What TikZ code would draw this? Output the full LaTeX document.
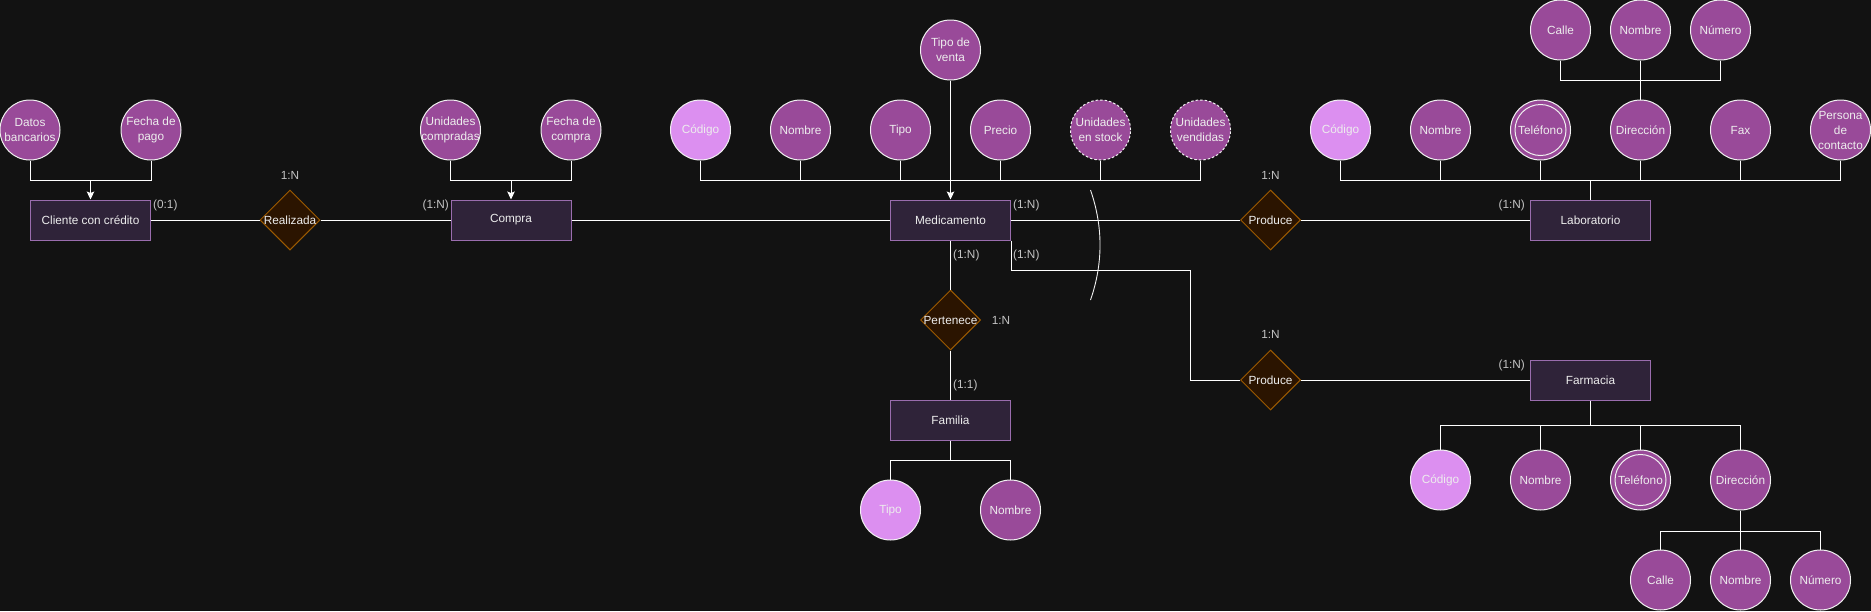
\documentclass[tikz,border=0pt]{standalone}
\usepackage{fontspec}
\setmainfont{Liberation Sans}
\usetikzlibrary{shapes.geometric,arrows.meta}
\definecolor{bg}{HTML}{121212}
\definecolor{attrf}{HTML}{994A99}
\definecolor{keyf}{HTML}{DC8FF0}
\definecolor{circd}{HTML}{F0F0F0}
\definecolor{entf}{HTML}{2F2339}
\definecolor{entd}{HTML}{9A6DAE}
\definecolor{relf}{HTML}{2B1400}
\definecolor{reld}{HTML}{9C5A00}
\definecolor{txtc}{HTML}{EDEDED}
\definecolor{lblc}{HTML}{C4C4C4}
\newcommand\mydiagfont{\fontsize{11.8}{15}\selectfont}
\begin{document}
\begin{tikzpicture}[x=1pt,y=-1pt,
  conn/.style={draw=white, line width=1pt},
  arr/.style={conn, -{Stealth[length=8pt,width=7.5pt,inset=1.5pt]}},
  txtw/.style={text=txtc, font=\mydiagfont, inner sep=0pt, align=center},
  ent/.style={rectangle, draw=entd, fill=entf, line width=1pt, minimum width=120pt, minimum height=40pt, inner sep=0pt, text=txtc, font=\mydiagfont},
  rel/.style={diamond, draw=reld, fill=relf, line width=1pt, minimum width=60pt, minimum height=60pt, inner sep=0pt, label={[txtw]center:#1}},
  attr/.style={circle, draw=circd, fill=attrf, line width=1pt, minimum size=60pt, inner sep=0pt, label={[txtw]center:#1}},
  keyattr/.style={attr=#1, fill=keyf},
  derattr/.style={attr=#1, dash pattern=on 2.5pt off 2pt},
  lbl/.style={text=lblc, font=\mydiagfont, inner sep=0pt}
]
\path[use as bounding box, fill=bg] (0,0) rectangle (1871,611);

% entities
\node[ent] (cliente) at (90.5,220) {Cliente con crédito};
\node[ent] (compra) at (511,220) {Compra};
\node[ent] (med) at (950.5,220) {Medicamento};
\node[ent] (lab) at (1590.5,220) {Laboratorio};
\node[ent] (farm) at (1590.5,380) {Farmacia};
\node[ent] (fam) at (950.5,420) {Familia};

% relationships
\node[rel=Realizada] (realizada) at (290,220) {};
\node[rel=Produce] (prod1) at (1270.5,220) {};
\node[rel=Produce] (prod2) at (1270.5,380) {};
\node[rel=Pertenece] (pert) at (950.5,320) {};

% Cliente attributes
\node[attr={Datos\\bancarios}] (datos) at (30,130) {};
\node[attr={Fecha de\\pago}] (fpago) at (151,130) {};
% Compra attributes
\node[attr={Unidades\\compradas}] (ucomp) at (450.5,130) {};
\node[attr={Fecha de\\compra}] (fcomp) at (571,130) {};
% Medicamento attributes
\node[attr={Tipo de\\venta}] (tventa) at (950.5,50) {};
\node[keyattr={Código}] (mcod) at (700.5,130) {};
\node[attr={Nombre}] (mnom) at (800.5,130) {};
\node[attr={Tipo}] (mtipo) at (900.5,130) {};
\node[attr={Precio}] (mprec) at (1000.5,130) {};
\node[derattr={Unidades\\en stock}] (mstock) at (1100.5,130) {};
\node[derattr={Unidades\\vendidas}] (mvend) at (1200.5,130) {};
% Laboratorio attributes
\node[keyattr={Código}] (lcod) at (1340.5,130) {};
\node[attr={Nombre}] (lnom) at (1440.5,130) {};
\node[attr={Teléfono}] (ltel) at (1540.5,130) {};
\node[attr={Dirección}] (ldir) at (1640.5,130) {};
\node[attr={Fax}] (lfax) at (1740.5,130) {};
\node[attr={Persona\\de\\contacto}] (lper) at (1840.5,130) {};
\node[attr={Calle}] (lcalle) at (1560.5,30) {};
\node[attr={Nombre}] (ldnom) at (1640.5,30) {};
\node[attr={Número}] (lnum) at (1720.5,30) {};
% Farmacia attributes
\node[keyattr={Código}] (fcod) at (1440.5,480) {};
\node[attr={Nombre}] (fnom) at (1540.5,480) {};
\node[attr={Teléfono}] (ftel) at (1640.5,480) {};
\node[attr={Dirección}] (fdir) at (1740.5,480) {};
\node[attr={Calle}] (fcalle) at (1660.5,580) {};
\node[attr={Nombre}] (fdnom) at (1740.5,580) {};
\node[attr={Número}] (fnum) at (1820.5,580) {};
% Familia attributes
\node[keyattr={Tipo}] (famtipo) at (890.5,510) {};
\node[attr={Nombre}] (famnom) at (1010.5,510) {};

% multivalued inner circles
\draw[draw=circd, line width=1pt] (ltel.center) circle[radius=25.5pt];
\draw[draw=circd, line width=1pt] (ftel.center) circle[radius=25.5pt];

% junction coordinates
\coordinate (jc) at (90.5,180);
\coordinate (jco) at (511,180);
\coordinate (jm) at (950.5,180);
\coordinate (jl) at (1590.5,180);
\coordinate (jld) at (1640.5,80);
\coordinate (jf) at (1590.5,425);
\coordinate (jfd) at (1740.5,531);
\coordinate (jfa) at (950.5,460);
\coordinate (bend) at (1190.5,270);

% attribute connectors
\draw[conn] (datos.south) |- (jc);
\draw[conn] (fpago.south) |- (jc);
\draw[arr] (jc) -- (cliente.north);
\draw[conn] (ucomp.south) |- (jco);
\draw[conn] (fcomp.south) |- (jco);
\draw[arr] (jco) -- (compra.north);
\foreach \n in {mcod,mnom,mtipo,mprec,mstock,mvend} \draw[conn] (\n.south) |- (jm);
\draw[arr] (tventa.south) -- (med.north);
\foreach \n in {lcod,lnom,ltel,ldir,lfax,lper} \draw[conn] (\n.south) |- (jl);
\draw[conn] (jl) -- (lab.north);
\foreach \n in {lcalle,ldnom,lnum} \draw[conn] (\n.south) |- (jld);
\draw[conn] (jld) -- (ldir.north);
\draw[conn] (farm.south) -- (jf);
\foreach \n in {fcod,fnom,ftel,fdir} \draw[conn] (jf) -| (\n.north);
\draw[conn] (fdir.south) -- (jfd);
\foreach \n in {fcalle,fdnom,fnum} \draw[conn] (jfd) -| (\n.north);
\draw[conn] (fam.south) -- (jfa);
\foreach \n in {famtipo,famnom} \draw[conn] (jfa) -| (\n.north);

% relationship connectors
\draw[conn] (cliente.east) -- (realizada.west);
\draw[conn] (realizada.east) -- (compra.west);
\draw[conn] (compra.east) -- (med.west);
\draw[conn] (med.east) -- (prod1.west);
\draw[conn] (prod1.east) -- (lab.west);
\draw[conn] (med.south) -- (pert.north);
\draw[conn] (pert.south) -- (fam.north);
\draw[conn] (med.south east) |- (bend) |- (prod2.west);
\draw[conn] (prod2.east) -- (farm.west);

% arc
\coordinate (arcA) at (1090.5,190);
\coordinate (arcB) at (1090.5,300);
\draw[draw=circd, line width=0.9pt] (arcA) .. controls (1103.2,226.7) and (1103.2,263.3) .. (arcB);

% cardinality labels
\node[lbl, anchor=west] (c1) at (153,205) {(0:1)};
\node[lbl] (c2) at (290,175) {1:N};
\node[lbl, anchor=east] (c3) at (449,205) {(1:N)};
\node[lbl, anchor=west] (c4) at (1013,205) {(1:N)};
\node[lbl, anchor=west] (c5) at (953,255) {(1:N)};
\node[lbl, anchor=west] (c6) at (1013,255) {(1:N)};
\node[lbl] (c7) at (1270.5,175) {1:N};
\node[lbl] (c8) at (1270.5,334) {1:N};
\node[lbl, anchor=east] (c9) at (1525,205) {(1:N)};
\node[lbl, anchor=east] (c10) at (1525,365) {(1:N)};
\node[lbl] (c11) at (1001,320) {1:N};
\node[lbl, anchor=west] (c12) at (953,385) {(1:1)};
\end{tikzpicture}
\end{document}
